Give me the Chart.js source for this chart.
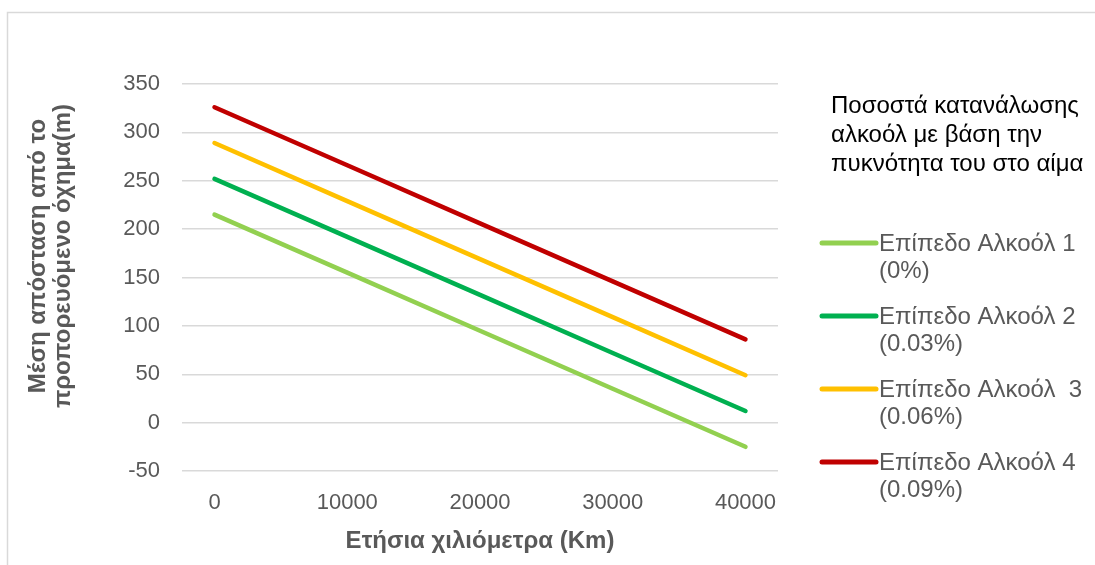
<!DOCTYPE html>
<html>
<head>
<meta charset="utf-8">
<script src="https://cdn.jsdelivr.net/npm/chart.js@4/dist/chart.umd.min.js"></script>
<style>
    html, body { margin: 0; padding: 0; background: #fff; }
    #grafico { display: block; }
</style>
</head>
<body>
<canvas id="grafico" width="1095" height="565"></canvas>
<script>
// ετήσια χιλιόμετρα (άξονας x)
const xValues = [0, 10000, 20000, 30000, 40000]
const yTicks = [-50, 0, 50, 100, 150, 200, 250, 300, 350]

const alcool1 = [215, 155, 95, 35, -25]
const alcool2 = [252, 192, 132, 72, 12]
const alcool3 = [289, 229, 169, 109, 49]
const alcool4 = [326, 266, 206, 146, 86]

const seriesLabels = [
    ["Επίπεδο Αλκοόλ 1", "(0%)"],
    ["Επίπεδο Αλκοόλ 2", "(0.03%)"],
    ["Επίπεδο Αλκοόλ  3", "(0.06%)"],
    ["Επίπεδο Αλκοόλ 4", "(0.09%)"]
]
const legendTitle = ["Ποσοστά κατανάλωσης", "αλκοόλ με βάση την", "πυκνότητα του στο αίμα"]
const yTitle = ["Μέση απόσταση από το", "προπορευόμενο όχημα(m)"]
const xTitle = "Ετήσια χιλιόμετρα (Km)"

const cores = ["#92D050", "#00B050", "#FFC000", "#C00000"]
const cinza = "#595959"
const fonte = "'Liberation Sans', Arial, sans-serif"

function pontos(valores) {
    return valores.map(function (v, i) { return { x: xValues[i], y: v } })
}

// moldura cinza (só esquerda e topo ficam visíveis)
const moldura = {
    id: 'moldura',
    beforeDraw(chart) {
        const ctx = chart.ctx
        ctx.save()
        ctx.strokeStyle = "#D9D9D9"
        ctx.lineWidth = 1.5
        ctx.beginPath()
        ctx.moveTo(7.5, 565)
        ctx.lineTo(7.5, 12.5)
        ctx.lineTo(1095, 12.5)
        ctx.stroke()
        ctx.restore()
    }
}

// título do eixo y: no Excel fica um pouco acima do centro do eixo
const tituloY = {
    id: 'tituloY',
    afterDraw(chart) {
        const ctx = chart.ctx
        ctx.save()
        ctx.translate(0, 256)
        ctx.rotate(-Math.PI / 2)
        ctx.textAlign = "center"
        ctx.textBaseline = "middle"
        ctx.fillStyle = cinza
        ctx.font = "bold 24px " + fonte
        yTitle.forEach(function (t, i) {
            ctx.fillText(t, 0, 38 + i * 25)
        })
        ctx.restore()
    }
}

// legenda desenhada à mão, com rótulos em duas linhas
const legenda = {
    id: 'legenda',
    afterDraw(chart) {
        const ctx = chart.ctx
        ctx.save()
        ctx.textBaseline = "middle"
        ctx.textAlign = "left"
        ctx.font = "24px " + fonte
        ctx.fillStyle = "#000"
        legendTitle.forEach(function (t, i) {
            ctx.fillText(t, 831, 106 + i * 29)
        })
        chart.data.datasets.forEach(function (ds, i) {
            const y = 243 + i * 73
            ctx.strokeStyle = ds.borderColor
            ctx.lineWidth = 5
            ctx.lineCap = "round"
            ctx.beginPath()
            ctx.moveTo(822, y)
            ctx.lineTo(876, y)
            ctx.stroke()
            ctx.fillStyle = cinza
            ds.label.forEach(function (t, j) {
                ctx.fillText(t, 879, y + 1 + j * 27)
            })
        })
        ctx.restore()
    }
}

const datasets = [alcool1, alcool2, alcool3, alcool4].map(function (serie, i) {
    return {
        label: seriesLabels[i],
        data: pontos(serie),
        borderColor: cores[i],
        backgroundColor: cores[i],
        borderWidth: 4.5,
        borderCapStyle: 'round',
        pointRadius: 0,
        fill: false
    }
})

new Chart(document.getElementById("grafico"), {
    type: 'line',
    data: { datasets: datasets },
    plugins: [moldura, tituloY, legenda],
    options: {
        responsive: false,
        animation: false,
        layout: { padding: { top: 84, right: 317, left: 0, bottom: 0 } },
        plugins: {
            legend: { display: false },
            tooltip: { enabled: false }
        },
        scales: {
            x: {
                type: 'linear',
                min: -2450,
                max: 42450,
                afterBuildTicks: function (axis) {
                    axis.ticks = xValues.map(function (v) { return { value: v } })
                },
                afterFit: function (axis) { axis.height = 94 },
                grid: { display: false, drawTicks: false },
                border: { display: false },
                ticks: {
                    padding: 19,
                    color: cinza,
                    font: { family: fonte, size: 22 },
                    maxRotation: 0,
                    callback: function (v) { return String(v) }
                },
                title: {
                    display: true,
                    text: xTitle,
                    color: cinza,
                    font: { family: fonte, size: 24, weight: 'bold', lineHeight: 1.2 },
                    padding: { top: 0, bottom: 9 }
                }
            },
            y: {
                min: -50,
                max: 350,
                afterBuildTicks: function (axis) {
                    axis.ticks = yTicks.map(function (v) { return { value: v } })
                },
                afterFit: function (axis) { axis.width = 182 },
                grid: { color: "#D9D9D9", lineWidth: 1.5, drawTicks: false },
                border: { display: false },
                ticks: {
                    padding: 22,
                    color: cinza,
                    font: { family: fonte, size: 22 }
                }
            }
        }
    }
})
</script>
</body>
</html>
